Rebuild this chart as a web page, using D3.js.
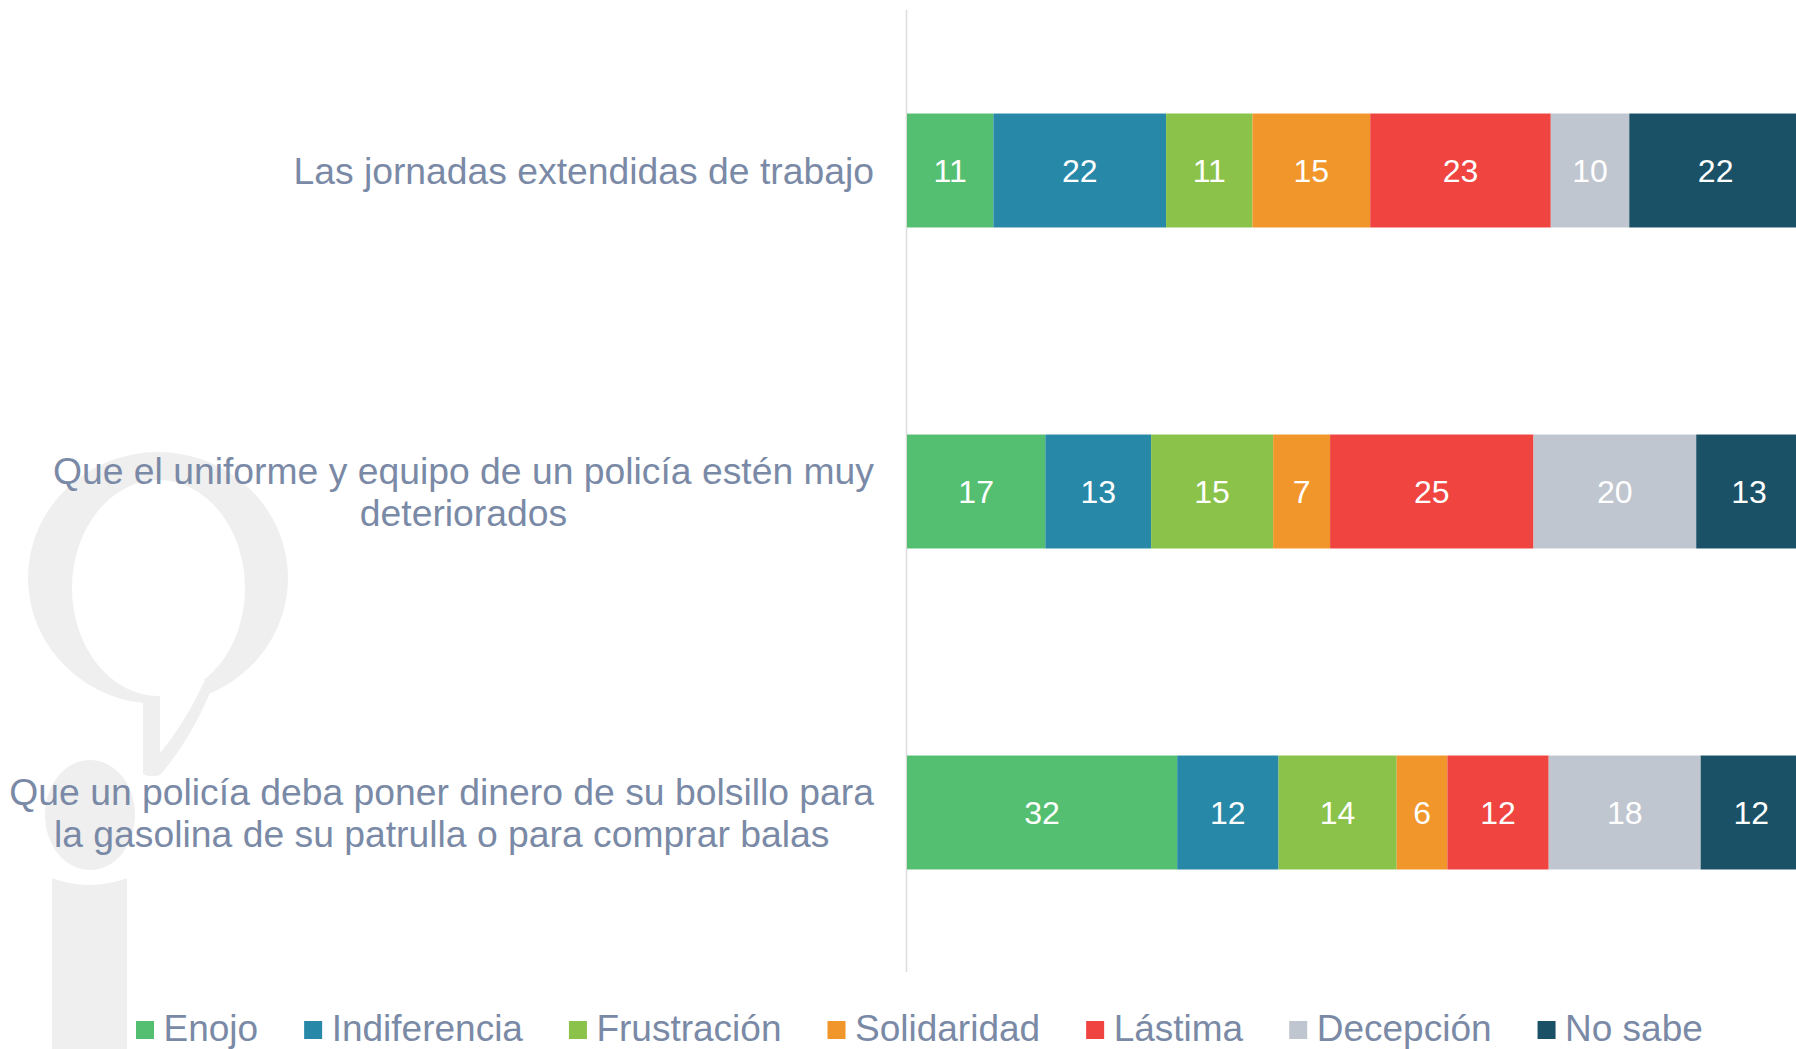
<!DOCTYPE html>
<html>
<head>
<meta charset="utf-8">
<script src="https://cdn.jsdelivr.net/npm/d3@7"></script>
<style>
  html, body { margin: 0; padding: 0; background: #ffffff; overflow: hidden; }
  svg { display: block; }
</style>
</head>
<body>
<svg id="chart" width="1796" height="1049"></svg>
<script>
// ---- Data ----
const categories = [
  ["Las jornadas extendidas de trabajo"],
  ["Que el uniforme y equipo de un policía estén muy", "deteriorados"],
  ["Que un policía deba poner dinero de su bolsillo para", "la gasolina de su patrulla o para comprar balas"]
];
const seriesNames = ["Enojo", "Indiferencia", "Frustración", "Solidaridad", "Lástima", "Decepción", "No sabe"];
const enojo        = [11, 17, 32];
const indiferencia = [22, 13, 12];
const frustracion  = [11, 15, 14];
const solidaridad  = [15, 7, 6];
const lastima      = [23, 25, 12];
const decepcion    = [10, 20, 18];
const noSabe       = [22, 13, 12];
const seriesColors = ["#55bf71", "#2788a8", "#8bc34a", "#f0962a", "#ef4440", "#c0c6cf", "#1b5166"];

// build table for d3.stack
const seriesValues = [enojo, indiferencia, frustracion, solidaridad, lastima, decepcion, noSabe];
const table = categories.map((c, i) => {
  const row = { key: i };
  seriesNames.forEach((s, j) => row[s] = seriesValues[j][i]);
  return row;
});

const svg = d3.select("#chart");
const labelColor = "#7a8aa6";
const fontFam = "'Liberation Sans', Arial, Helvetica, sans-serif";

// ---- Watermark ----
const wm = svg.append("g").attr("fill", "#efefef");
wm.append("ellipse").attr("cx", 158).attr("cy", 578).attr("rx", 130).attr("ry", 126);
wm.append("path").attr("d", "M143,680 L215,680 C200,720 180,752 160,775 Q150,778 143,774 Z");
wm.append("ellipse").attr("cx", 158.5).attr("cy", 588).attr("rx", 86.5).attr("ry", 108).attr("fill", "#fff");
wm.append("path").attr("d", "M160,680 L205,680 C190,712 175,735 160,753 Z").attr("fill", "#fff");
wm.append("ellipse").attr("cx", 90).attr("cy", 815).attr("rx", 45).attr("ry", 55);
wm.append("path").attr("d", "M52,878 Q89,892 127,878 L127,1049 L52,1049 Z");
// gap between dot and stem
wm.append("path").attr("d", "M40,866 Q89,886 140,866 L140,874 Q89,894 40,874 Z").attr("fill", "#fff");

// ---- Scales ----
const y = d3.scaleBand()
  .domain(d3.range(categories.length))
  .range([10, 973])
  .paddingInner(0.645)
  .paddingOuter(0.3225);
const x = d3.scaleLinear().domain([0, 1]).range([907, 1802]);

const stack = d3.stack().keys(seriesNames).offset(d3.stackOffsetExpand);
const stacked = stack(table);

// axis line
svg.append("line")
  .attr("x1", 906.5).attr("x2", 906.5)
  .attr("y1", 10).attr("y2", 972)
  .attr("stroke", "#dcdcdc").attr("stroke-width", 1.5);

// bars
const groups = svg.append("g").selectAll("g")
  .data(stacked)
  .join("g")
  .attr("fill", (d, i) => seriesColors[i]);

groups.selectAll("rect")
  .data(d => d.map(p => ({ p, key: d.key })))
  .join("rect")
  .attr("x", d => x(d.p[0]))
  .attr("width", d => x(d.p[1]) - x(d.p[0]))
  .attr("y", d => y(d.p.data.key))
  .attr("height", y.bandwidth());

// value labels
groups.selectAll("text")
  .data(d => d.map(p => ({ p, key: d.key })))
  .join("text")
  .attr("x", d => (x(d.p[0]) + x(d.p[1])) / 2)
  .attr("y", d => y(d.p.data.key) + y.bandwidth() / 2)
  .attr("dy", "0.36em")
  .attr("text-anchor", "middle")
  .attr("fill", "#ffffff")
  .attr("font-family", fontFam)
  .attr("font-size", 32)
  .text(d => d.p.data[d.key]);

// category labels (right-aligned block, centered lines)
const labelRight = 874;
const lineH = 42;
const catG = svg.append("g")
  .attr("font-family", fontFam)
  .attr("font-size", 37.3)
  .attr("fill", labelColor);
categories.forEach((lines, i) => {
  const cy = y(i) + y.bandwidth() / 2;
  const g = catG.append("g");
  const texts = lines.map((l, k) => g.append("text")
    .attr("y", cy + (k - (lines.length - 1) / 2) * lineH)
    .attr("dy", "0.36em")
    .attr("text-anchor", "middle")
    .text(l));
  const maxW = d3.max(texts, t => t.node().getComputedTextLength());
  texts.forEach(t => t.attr("x", labelRight - maxW / 2));
});

// legend
const legG = svg.append("g")
  .attr("font-family", fontFam)
  .attr("font-size", 37);
let lx = 136;
seriesNames.forEach((s, i) => {
  legG.append("rect")
    .attr("x", lx).attr("y", 1021)
    .attr("width", 18).attr("height", 18)
    .attr("fill", seriesColors[i]);
  const t = legG.append("text")
    .attr("x", lx + 27.5).attr("y", 1041)
    .attr("fill", labelColor)
    .text(s);
  lx += 27.5 + t.node().getComputedTextLength() + 46;
});
</script>
</body>
</html>
